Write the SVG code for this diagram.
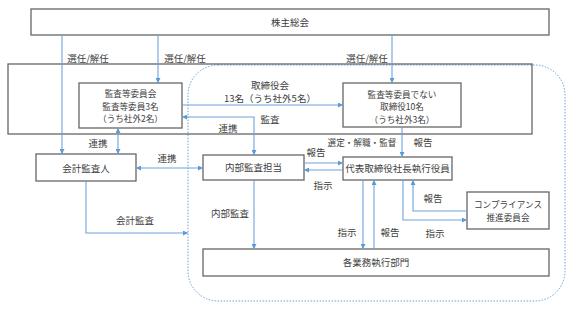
<svg xmlns="http://www.w3.org/2000/svg" width="577" height="312" viewBox="0 0 577 312">
<style>
.box{fill:#fff;stroke:#666;stroke-width:1.3}
.frame{fill:none;stroke:#666;stroke-width:1.3}
.dash{fill:none;stroke:#6a9fd8;stroke-width:1;stroke-dasharray:1.5 1.5}
.c{fill:none;stroke:#6ea2dc;stroke-width:1.1}
text{font-family:"Noto Sans CJK JP","Noto Sans",sans-serif;font-size:9.5px;fill:#404040;text-anchor:middle;dominant-baseline:central}
text.s{font-size:8.6px}
</style>
<defs>
<marker id="a" viewBox="0 0 6 6" refX="6" refY="3" markerWidth="5" markerHeight="5" markerUnits="userSpaceOnUse" orient="auto-start-reverse">
<path d="M0,0 L6,3 L0,6 Z" fill="#5b9bd5"/>
</marker>
</defs>
<rect class="dash" x="188" y="65" width="377" height="236" rx="30" ry="30"/>
<rect class="frame" x="8" y="64" width="524" height="70"/>
<g id="shareholders"><rect class="box" x="31" y="9" width="518" height="26"/><text x="290" y="22">株主総会</text></g>
<g id="audit-committee"><rect class="box" x="79" y="83" width="103" height="45"/><text class="s" x="130.5" y="93">監査等委員会</text><text class="s" x="130.5" y="105.5">監査等委員3名</text><text class="s" x="130.5" y="118">（うち社外2名）</text></g>
<g id="directors"><rect class="box" x="343" y="83" width="118" height="44"/><text class="s" x="402" y="93.5">監査等委員でない</text><text class="s" x="402" y="106">取締役10名</text><text class="s" x="402" y="118.5">（うち社外3名）</text></g>
<g id="accounting-auditor"><rect class="box" x="36" y="154" width="100" height="27"/><text x="86" y="168">会計監査人</text></g>
<g id="internal-audit"><rect class="box" x="203" y="155" width="101" height="25"/><text x="253.5" y="167">内部監査担当</text></g>
<g id="ceo"><rect class="box" x="343" y="157" width="109" height="23"/><text x="397.5" y="168">代表取締役社長執行役員</text></g>
<g id="compliance"><rect class="box" x="467" y="192" width="82" height="37"/><text class="s" x="508" y="204">コンプライアンス</text><text class="s" x="508" y="217">推進委員会</text></g>
<g id="departments"><rect class="box" x="203" y="249" width="346" height="27"/><text x="376" y="262">各業務執行部門</text></g>
<g id="connectors">
<path class="c" d="M62,35 V154" marker-end="url(#a)"/>
<path class="c" d="M158,35 V83" marker-end="url(#a)"/>
<path class="c" d="M392,35 V83" marker-end="url(#a)"/>
<path class="c" d="M118,128 V154" marker-start="url(#a)" marker-end="url(#a)"/>
<path class="c" d="M136,168 H203" marker-start="url(#a)" marker-end="url(#a)"/>
<path class="c" d="M182,105 H343" marker-end="url(#a)"/>
<path class="c" d="M182,117 H254 V155" marker-start="url(#a)" marker-end="url(#a)"/>
<path class="c" d="M402,127 V157" marker-end="url(#a)"/>
<path class="c" d="M304,163 H343" marker-end="url(#a)"/>
<path class="c" d="M343,170 H304" marker-end="url(#a)"/>
<path class="c" d="M86,181 V233 H188" marker-end="url(#a)"/>
<path class="c" d="M254,180 V249" marker-end="url(#a)"/>
<path class="c" d="M363,180 V249" marker-end="url(#a)"/>
<path class="c" d="M374,249 V180" marker-end="url(#a)"/>
<path class="c" d="M403,180 V220 H467" marker-end="url(#a)"/>
<path class="c" d="M467,211 H413 V180" marker-end="url(#a)"/>
<text x="88" y="58">選任/解任</text>
<text x="185" y="58">選任/解任</text>
<text x="367" y="58">選任/解任</text>
<text x="270" y="85">取締役会</text>
<text x="270" y="98">13名（うち社外5名）</text>
<text x="270" y="119">監査</text>
<text x="228" y="128">連携</text>
<text x="98" y="143">連携</text>
<text x="167" y="158">連携</text>
<text class="s" x="362" y="142">選定・解職・監督</text>
<text x="423" y="142">報告</text>
<text x="316" y="152">報告</text>
<text x="323" y="185">指示</text>
<text x="135" y="220">会計監査</text>
<text x="230" y="213">内部監査</text>
<text x="347" y="232">指示</text>
<text x="390" y="232">報告</text>
<text x="433" y="198">報告</text>
<text x="435" y="233">指示</text>
</g>
</svg>
